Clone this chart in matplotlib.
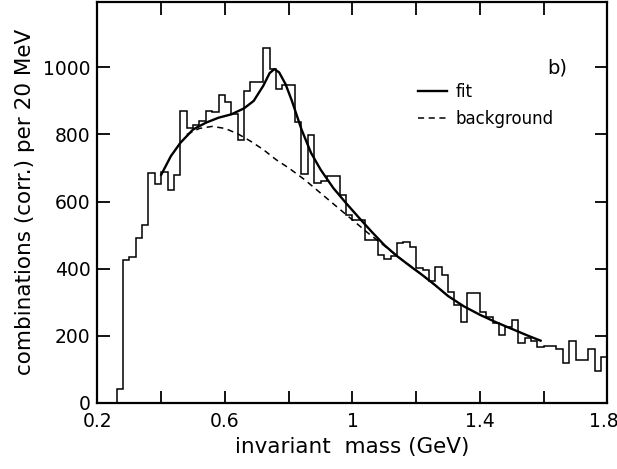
import numpy as np
import matplotlib
matplotlib.use('Agg')
import matplotlib.pyplot as plt
import matplotlib.transforms as mtransforms

# histogram: 20 MeV bins starting at 0.26 GeV
bin_start = 0.26
bin_width = 0.02
counts = [41, 425, 435, 490, 529, 686, 653, 688, 634, 678,
          869, 820, 827, 840, 870, 868, 919, 897, 862, 783,
          931, 956, 956, 1058, 996, 937, 948, 948, 837, 681,
          797, 655, 660, 675, 675, 619, 561, 545, 545, 485,
          485, 440, 430, 436, 475, 480, 465, 402, 395, 362,
          405, 380, 331, 291, 241, 326, 326, 271, 256, 237,
          202, 226, 246, 179, 192, 185, 165, 169, 169, 159,
          117, 185, 127, 127, 159, 95, 135]

# fit curve
fit_x = [0.40, 0.43, 0.46, 0.50, 0.54, 0.58, 0.62, 0.66, 0.69, 0.72,
         0.74, 0.755, 0.77, 0.79, 0.81, 0.84, 0.87, 0.90, 0.94, 0.98,
         1.02, 1.06, 1.10, 1.14, 1.18, 1.22, 1.26, 1.30, 1.35, 1.40,
         1.45, 1.50, 1.55, 1.59]
fit_y = [680, 735, 775, 815, 835, 850, 860, 878, 900, 945,
         983, 995, 985, 950, 900, 815, 745, 695, 640, 595,
         552, 510, 470, 437, 408, 380, 350, 318, 287, 262,
         240, 220, 200, 185]

# background curve
bg_x = [0.48, 0.52, 0.56, 0.60, 0.64, 0.68, 0.72, 0.76, 0.80, 0.85,
        0.90, 0.95, 1.00, 1.05, 1.10, 1.15, 1.20, 1.25, 1.30]
bg_y = [800, 818, 824, 818, 802, 780, 755, 725, 700, 665,
        625, 585, 545, 505, 468, 430, 395, 358, 318]

edges = bin_start + bin_width * np.arange(len(counts) + 1)

plt.rcParams['font.family'] = 'DejaVu Sans'
fig = plt.figure(figsize=(6.17, 4.69), dpi=100)
ax = fig.add_axes([0.158, 0.1414, 0.8266, 0.8543])

ax.stairs(counts, edges, baseline=0, color='black', linewidth=1.1)
ax.plot(fit_x, fit_y, color='black', linewidth=1.7, label='fit')
ax.plot(bg_x, bg_y, color='black', linewidth=1.1, linestyle=(0, (4, 3)),
        label='background')

ax.set_xlim(0.2, 1.8)
ax.set_ylim(0, 1195)
ax.set_xticks(np.arange(0.2, 1.81, 0.2))
ax.set_xticklabels(['0.2', '', '0.6', '', '1', '', '1.4', '', '1.8'])
ax.set_yticks([0, 200, 400, 600, 800, 1000])
ax.tick_params(direction='in', top=True, right=True, length=9, width=1.3,
               labelsize=13.5)
ax.tick_params(axis='x', pad=7)
ax.tick_params(axis='y', pad=5)
for s in ax.spines.values():
    s.set_linewidth(1.6)

# last x label sits at the figure edge, nudge it in a little
last = ax.get_xticklabels()[-1]
last.set_transform(last.get_transform() +
                   mtransforms.ScaledTranslation(-4 / 100, 0, fig.dpi_scale_trans))

ax.set_xlabel('invariant  mass (GeV)', fontsize=15.5, labelpad=4)
ax.set_ylabel('combinations (corr.) per 20 MeV', fontsize=15.5, labelpad=6)

leg = ax.legend(loc='upper left', bbox_to_anchor=(0.6, 0.835), frameon=False,
                fontsize=12, handlelength=1.7, handletextpad=0.5,
                labelspacing=0.55)
ax.text(1.61, 997, 'b)', fontsize=14, ha='left', va='center')

fig.savefig('out.png', dpi=100)
